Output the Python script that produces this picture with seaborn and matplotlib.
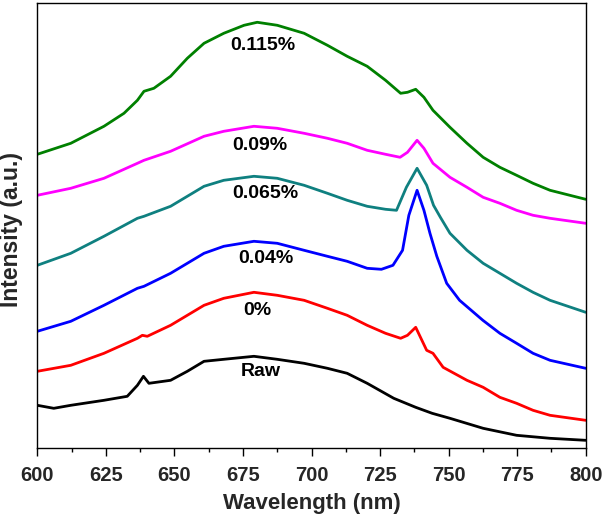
import matplotlib
matplotlib.use("Agg")
import matplotlib.pyplot as plt
from matplotlib.ticker import MultipleLocator
import seaborn as sns
import pandas as pd

# ---- data (intensity in arbitrary units) ----
series_names = ["0.115%", "0.09%", "0.065%", "0.04%", "0%", "Raw"]
series_colors = ["#008000", "#FF00FF", "#0F8080", "#0000FF", "#FF0000", "#000000"]

wl_0115 = [600, 612.2, 624.3, 631.6, 636.5, 638.9, 642.5, 648.6, 654.7, 660.8, 668, 675.4, 680.2, 687.5,
           697.3, 705.8, 713, 720.3, 727, 732.5, 735, 738, 741, 744.3, 750.5, 756.7, 762.6, 768.7,
           774.8, 780.8, 787, 800]
in_0115 = [294, 305, 322, 335, 348, 357, 360, 372, 390, 405, 415, 423, 426, 423,
           415, 403, 392, 382, 368, 355, 356, 359, 351, 338, 321, 305, 291, 281,
           273, 265, 258, 249]

wl_009 = [600, 612.2, 624.3, 636.5, 638.9, 648.6, 660.8, 668, 679, 687.5, 697.3, 705.8, 713, 720.3,
          727, 732.3, 735, 738.5, 741, 744.3, 750.5, 756.7, 762.6, 768.7, 774.8, 780.8, 787, 800]
in_009 = [253, 260, 270, 285, 288, 297, 312, 317, 322, 320, 315, 310, 305, 298,
          294, 291, 296, 308, 300, 285, 271, 261, 251, 245, 238, 233, 230, 225]

wl_0065 = [600, 612.2, 624.3, 636.5, 638.9, 648.6, 660.8, 668, 679, 687.5, 697.3, 705.8, 713, 720.3,
           727, 731, 734.6, 738.5, 742, 744.5, 747, 750.5, 756.7, 762.6, 768.7, 774.8, 780.8, 787, 800]
in_0065 = [183, 195, 212, 230, 232, 242, 262, 268, 272, 270, 263, 255, 248, 242,
           239, 238, 261, 280, 263, 243, 231, 215, 198, 185, 175, 165, 156, 148, 136]

wl_004 = [600, 612.2, 624.3, 636.5, 638.9, 648.6, 660.8, 668, 679, 687.5, 697.3, 705.8, 713, 720.3,
          725.5, 729.7, 733.2, 735.5, 738.5, 741, 743.2, 745.7, 749.3, 754, 762.5, 768.7, 774.8,
          780.8, 787, 800]
in_004 = [117, 127, 143, 160, 162, 175, 195, 202, 207, 205, 198, 192, 187, 180,
          179, 183, 198, 233, 258, 238, 215, 192, 165, 148, 128, 115, 105,
          95, 88, 80]

wl_0 = [600, 612.2, 624.3, 636.5, 638.3, 640.1, 648.6, 660.8, 668, 679, 687.5, 697.3, 705.8, 713, 720.3,
        727, 732.5, 735, 738, 742, 744.3, 748, 756.7, 762.6, 768.7, 774.8, 780.8, 787, 800]
in_0 = [77, 83, 95, 110, 113, 112, 123, 143, 150, 156, 153, 148, 140, 133, 123,
        115, 110, 113, 121, 98, 95, 81, 68, 61, 51, 45, 38, 33, 28]

wl_raw = [600, 606, 612.2, 624.3, 632.8, 636.5, 638.7, 640.7, 648.6, 654.7, 660.8, 668, 679, 687.5,
          697.3, 705.8, 713, 720.3, 730, 738, 744, 750.5, 762.6, 774.8, 787, 800]
in_raw = [43, 40, 43, 48, 52, 63, 72, 65, 68, 77, 87, 89, 92, 89,
          85, 80, 75, 65, 50, 41, 35, 30, 20, 13, 10, 8]

label_x = [682.3, 681.2, 683.3, 683.2, 680.1, 681.6]
label_y = [403, 303, 255, 190, 138, 77]

x_ticks = [600, 625, 650, 675, 700, 725, 750, 775, 800]

# ---- build long-form table ----
all_wl = [wl_0115, wl_009, wl_0065, wl_004, wl_0, wl_raw]
all_in = [in_0115, in_009, in_0065, in_004, in_0, in_raw]
frames = []
for name, w, v in zip(series_names, all_wl, all_in):
    frames.append(pd.DataFrame({"Wavelength": w, "Intensity": v, "Sample": name}))
df = pd.concat(frames, ignore_index=True)

sns.set_style("ticks")
plt.rcParams["font.family"] = ["Liberation Sans", "DejaVu Sans"]
plt.rcParams["font.weight"] = "bold"

fig = plt.figure(figsize=(6.04, 5.15), dpi=100)
ax = fig.add_axes([0.0618, 0.1295, 0.9079, 0.8653])

sns.lineplot(data=df, x="Wavelength", y="Intensity", hue="Sample", hue_order=series_names,
             palette=series_colors, sort=False, estimator=None, linewidth=2.0, legend=False, ax=ax)

for name, tx, ty in zip(series_names, label_x, label_y):
    ax.text(tx, ty, name, ha="center", va="center", fontsize=14, fontweight="bold", color="black")

ax.set_xlim(600, 800)
ax.set_ylim(0, 445.6)
ax.set_xticks(x_ticks)
ax.set_xticklabels([str(t) for t in x_ticks], fontsize=14.5, fontweight="bold")
ax.xaxis.set_minor_locator(MultipleLocator(12.5))
ax.tick_params(axis="x", which="major", direction="out", length=5.8, width=1.0, pad=7, color="black")
ax.tick_params(axis="x", which="minor", direction="out", length=2.9, width=1.0, color="black")
ax.set_yticks([])
ax.set_xlabel("Wavelength (nm)", fontsize=16, fontweight="bold", labelpad=6)
ax.set_ylabel("Intensity (a.u.)", fontsize=16.5, fontweight="bold")
ax.yaxis.set_label_coords(-0.026, 0.49)
for s in ax.spines.values():
    s.set_visible(True)
    s.set_linewidth(1.0)
    s.set_color("black")

fig.savefig("out.png", dpi=100)
